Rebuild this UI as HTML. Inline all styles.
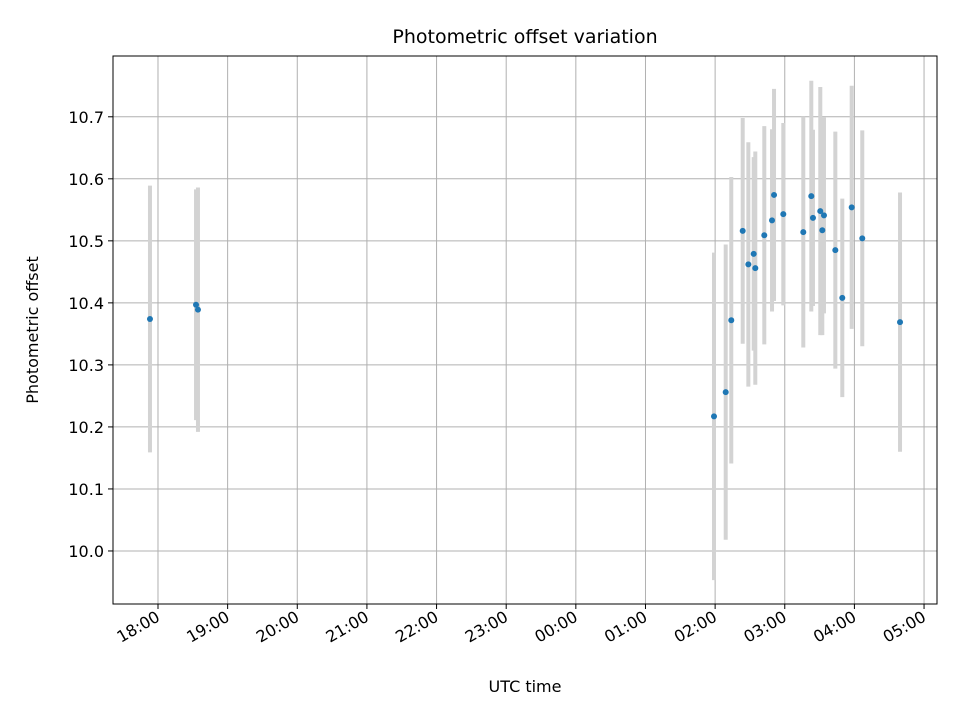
<!DOCTYPE html>
<html><head><meta charset="utf-8"><style>
body{margin:0;background:#fff;}
svg{display:block;font-family:"DejaVu Sans","Liberation Sans",sans-serif;}
</style></head><body>
<svg id="chart" width="960" height="720">
<rect width="960" height="720" fill="#fff"/>
<text x="525" y="43" text-anchor="middle" font-size="19" fill="#000">Photometric offset variation</text>
<text x="525" y="692" text-anchor="middle" font-size="16" fill="#000">UTC time</text>
<text transform="translate(38,330) rotate(-90)" text-anchor="middle" font-size="16" fill="#000">Photometric offset</text>
<g id="grid"></g><g id="errs"></g><g id="pts"></g><g id="axes"></g>
</svg>
<script>
// hours relative to 18:00 UTC of first night
const times = [-0.115,0.546,0.574,7.984,8.152,8.232,8.396,8.477,8.554,8.577,8.706,8.817,8.846,8.979,9.266,9.381,9.405,9.510,9.563,9.539,9.726,9.826,9.961,10.113,10.655];
const offsets = [10.374,10.397,10.389,10.217,10.256,10.372,10.516,10.462,10.479,10.456,10.509,10.533,10.574,10.543,10.514,10.572,10.537,10.548,10.541,10.517,10.485,10.408,10.554,10.504,10.369];
const errors = [0.215,0.186,0.197,0.264,0.238,0.231,0.182,0.197,0.156,0.188,0.176,0.147,0.171,0.147,0.186,0.186,0.142,0.2,0.158,0.169,0.191,0.16,0.196,0.174,0.209];
const xTickLabels = ["18:00","19:00","20:00","21:00","22:00","23:00","00:00","01:00","02:00","03:00","04:00","05:00"];
const yTicks = [10.0,10.1,10.2,10.3,10.4,10.5,10.6,10.7];

const L=113,R=937,T=56,B=604;
const xMin=-0.646,xMax=11.186,yMin=9.9145,yMax=10.798;
const xs=h=>L+(h-xMin)/(xMax-xMin)*(R-L);
const ys=v=>B-(v-yMin)/(yMax-yMin)*(B-T);
const NS="http://www.w3.org/2000/svg";
function mk(tag,attrs,parent){const e=document.createElementNS(NS,tag);for(const k in attrs)e.setAttribute(k,attrs[k]);parent.appendChild(e);return e;}
const grid=document.getElementById('grid'),errs=document.getElementById('errs'),pts=document.getElementById('pts'),axes=document.getElementById('axes');

xTickLabels.forEach((lab,i)=>{
  const x=xs(i);
  const g=mk('line',{x1:x,x2:x,y1:T,y2:B,stroke:'#b0b0b0','stroke-width':1},grid);
  
  
  const t=mk('line',{x1:x,x2:x,y1:B,y2:B+5,stroke:'#000','stroke-width':1},axes);
  
  
  const tx=mk('text',{transform:`translate(${x+3},${B+16}) rotate(-30)`,'text-anchor':'end','font-size':16,fill:'#000'},axes);
  tx.textContent=lab;
  
  
});
yTicks.forEach(v=>{
  const y=ys(v);
  const g=mk('line',{x1:L,x2:R,y1:y,y2:y,stroke:'#b0b0b0','stroke-width':1},grid);
  
  
  const t=mk('line',{x1:L-5,x2:L,y1:y,y2:y,stroke:'#000','stroke-width':1},axes);
  
  
  const tx=mk('text',{x:L-9,y:y+6,'text-anchor':'end','font-size':16,fill:'#000'},axes);
  tx.textContent=v.toFixed(1);
  
  
});
times.forEach((h,i)=>{
  const x=xs(h);
  const e=mk('line',{x1:x,x2:x,y1:ys(offsets[i]+errors[i]),y2:ys(offsets[i]-errors[i]),stroke:'#d3d3d3','stroke-width':4},errs);
  
  
  const c=mk('circle',{cx:x,cy:ys(offsets[i]),r:3,fill:'#1f77b4'},pts);
  
  
});
const f=mk('rect',{x:L,y:T,width:R-L,height:B-T,fill:'none',stroke:'#000','stroke-width':1},axes);


</script>
</body></html>
